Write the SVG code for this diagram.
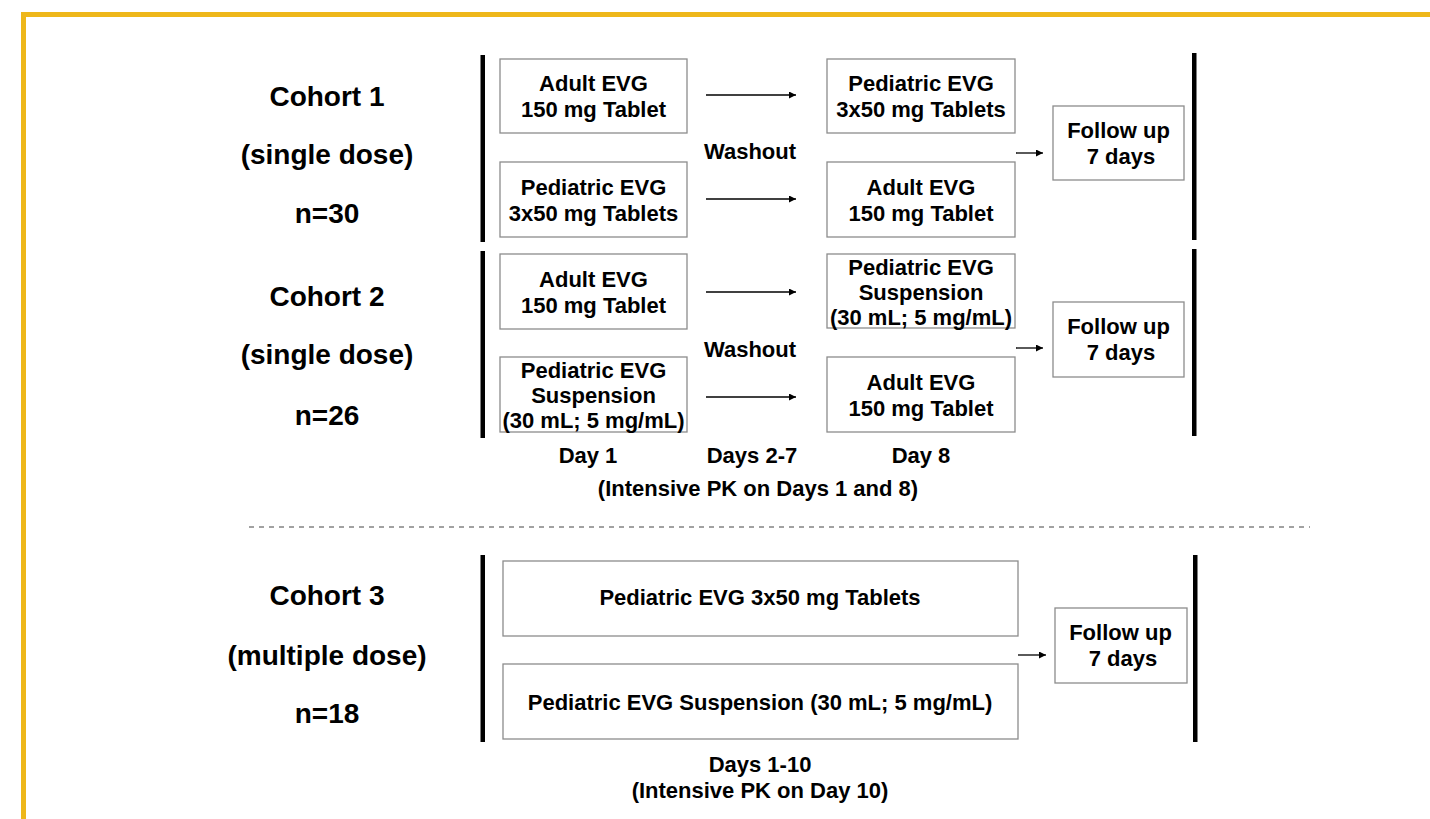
<svg xmlns="http://www.w3.org/2000/svg" width="1430" height="819" viewBox="0 0 1430 819">
<style>
text{font-family:"Liberation Sans",Arial,sans-serif;font-weight:bold;fill:#000;text-anchor:middle}
.lab{font-size:28px}
.t{font-size:22px}
.box{fill:#fff;stroke:#8c8c8c;stroke-width:1.3}
.bar{fill:#000}
.arr{stroke:#000;stroke-width:1.3;fill:none;marker-end:url(#ah)}
</style>
<defs>
<marker id="ah" viewBox="0 0 10 10" refX="10" refY="5" markerWidth="10" markerHeight="7" markerUnits="userSpaceOnUse" orient="auto">
<path d="M0,0 L10,5 L0,10 z" fill="#000"/>
</marker>
</defs>
<rect x="0" y="0" width="1430" height="819" fill="#fff"/>
<rect x="21" y="12" width="1409" height="5" fill="#EEB71A"/>
<rect x="21" y="12" width="5" height="807" fill="#EEB71A"/>

<g id="labels">
<text class="lab" x="327" y="106">Cohort 1</text>
<text class="lab" x="327" y="164">(single dose)</text>
<text class="lab" x="327" y="223">n=30</text>
<text class="lab" x="327" y="306">Cohort 2</text>
<text class="lab" x="327" y="364">(single dose)</text>
<text class="lab" x="327" y="425">n=26</text>
<text class="lab" x="327" y="605">Cohort 3</text>
<text class="lab" x="327" y="665">(multiple dose)</text>
<text class="lab" x="327" y="723">n=18</text>
</g>

<g id="bars">
<rect class="bar" x="480.5" y="55" width="4.5" height="187"/>
<rect class="bar" x="480.5" y="251" width="4.5" height="187"/>
<rect class="bar" x="480.5" y="555" width="4.5" height="187"/>
<rect class="bar" x="1192" y="53" width="4.5" height="187"/>
<rect class="bar" x="1192" y="249" width="4.5" height="187"/>
<rect class="bar" x="1193" y="555" width="4.5" height="187"/>
</g>

<g id="c1a1"><rect class="box" x="500" y="59" width="187" height="74"/>
<text class="t" x="593.5" y="91">Adult EVG</text><text class="t" x="593.5" y="117">150 mg Tablet</text></g>
<g id="c1a2"><rect class="box" x="500" y="162" width="187" height="75"/>
<text class="t" x="593.5" y="195">Pediatric EVG</text><text class="t" x="593.5" y="221">3x50 mg Tablets</text></g>
<g id="c1b1"><rect class="box" x="827" y="59" width="188" height="74"/>
<text class="t" x="921" y="91">Pediatric EVG</text><text class="t" x="921" y="117">3x50 mg Tablets</text></g>
<g id="c1b2"><rect class="box" x="827" y="162" width="188" height="75"/>
<text class="t" x="921" y="195">Adult EVG</text><text class="t" x="921" y="221">150 mg Tablet</text></g>
<g id="c1w"><text class="t" x="750" y="159">Washout</text></g>
<g id="c1f"><rect class="box" x="1053" y="106" width="131" height="74"/>
<text class="t" x="1118.5" y="138">Follow up</text><text class="t" x="1121" y="164">7 days</text></g>

<g id="c2a1"><rect class="box" x="500" y="254" width="187" height="75"/>
<text class="t" x="593.5" y="287">Adult EVG</text><text class="t" x="593.5" y="313">150 mg Tablet</text></g>
<g id="c2a2"><rect class="box" x="500" y="357" width="187" height="75"/>
<text class="t" x="593.5" y="378">Pediatric EVG</text><text class="t" x="593.5" y="403">Suspension</text><text class="t" x="593.5" y="428">(30 mL; 5 mg/mL)</text></g>
<g id="c2b1"><rect class="box" x="827" y="254" width="188" height="74"/>
<text class="t" x="921" y="275">Pediatric EVG</text><text class="t" x="921" y="300">Suspension</text><text class="t" x="921" y="325">(30 mL; 5 mg/mL)</text></g>
<g id="c2b2"><rect class="box" x="827" y="357" width="188" height="75"/>
<text class="t" x="921" y="390">Adult EVG</text><text class="t" x="921" y="416">150 mg Tablet</text></g>
<g id="c2w"><text class="t" x="750" y="357">Washout</text></g>
<g id="c2f"><rect class="box" x="1053" y="302" width="131" height="75"/>
<text class="t" x="1118.5" y="334">Follow up</text><text class="t" x="1121" y="360">7 days</text></g>

<g id="days">
<text class="t" x="588" y="463">Day 1</text>
<text class="t" x="752" y="463">Days 2-7</text>
<text class="t" x="921" y="463">Day 8</text>
<text class="t" x="758" y="496">(Intensive PK on Days 1 and 8)</text>
</g>

<line x1="249" y1="527" x2="1310" y2="527" stroke="#444" stroke-width="1" stroke-dasharray="5,5"/>

<g id="c3a"><rect class="box" x="503" y="561" width="515" height="75"/>
<text class="t" x="760" y="605">Pediatric EVG 3x50 mg Tablets</text></g>
<g id="c3b"><rect class="box" x="503" y="664" width="515" height="75"/>
<text class="t" x="760" y="710">Pediatric EVG Suspension (30 mL; 5 mg/mL)</text></g>
<g id="c3f"><rect class="box" x="1055" y="608" width="132" height="75"/>
<text class="t" x="1120.5" y="640">Follow up</text><text class="t" x="1123" y="666">7 days</text></g>
<g id="c3days">
<text class="t" x="760" y="772">Days 1-10</text>
<text class="t" x="760" y="798">(Intensive PK on Day 10)</text>
</g>

<g id="connectors">
<line class="arr" x1="706" y1="95" x2="796" y2="95"/>
<line class="arr" x1="706" y1="199" x2="796" y2="199"/>
<line class="arr" x1="1016" y1="153" x2="1043" y2="153"/>
<line class="arr" x1="706" y1="292" x2="796" y2="292"/>
<line class="arr" x1="706" y1="397" x2="796" y2="397"/>
<line class="arr" x1="1016" y1="348" x2="1043" y2="348"/>
<line class="arr" x1="1018" y1="655" x2="1046" y2="655"/>
</g>
</svg>
